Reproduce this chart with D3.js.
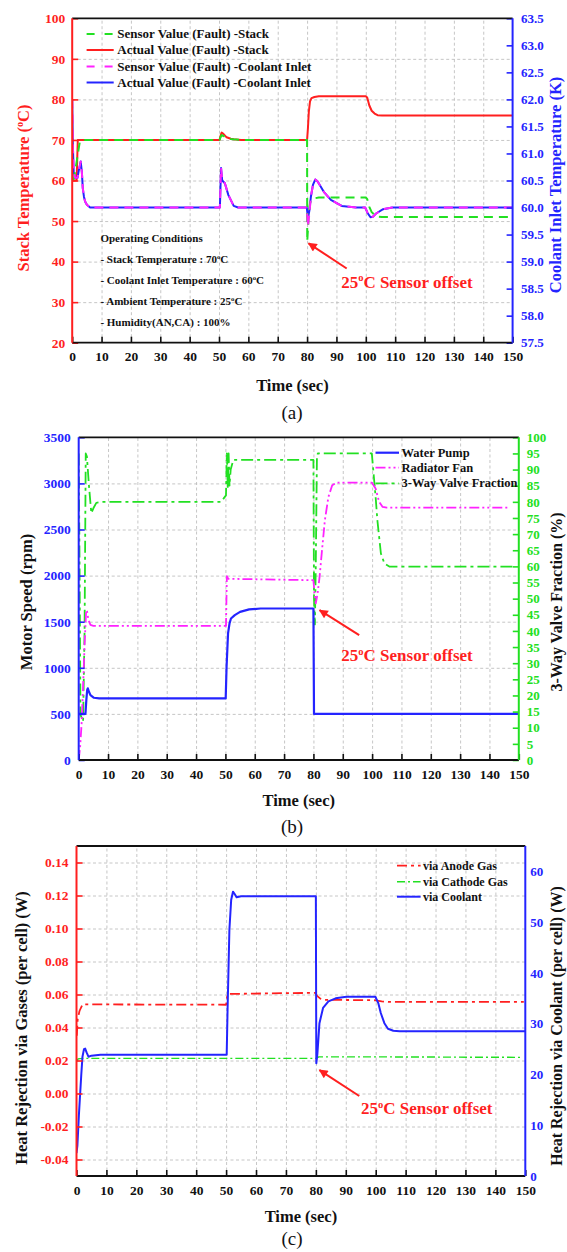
<!DOCTYPE html>
<html><head><meta charset="utf-8">
<script src="https://cdn.jsdelivr.net/npm/d3@7/dist/d3.min.js"></script>
<style>html,body{margin:0;padding:0;background:#fff;}svg{display:block;}</style>
</head><body>
<svg id="chart" width="567" height="1252"></svg>
<script>
// ---------------- DATA ----------------
const xTicks = [0,10,20,30,40,50,60,70,80,90,100,110,120,130,140,150];
const xGrid  = [10,20,30,40,50,60,70,80,90,100,110,120,130,140];

// Panel (a)
const aLeftTicks  = [20,30,40,50,60,70,80,90,100];
const aLeftGrid   = [30,40,50,60,70,80,90];
const aRightTicks = [57.5,58.0,58.5,59.0,59.5,60.0,60.5,61.0,61.5,62.0,62.5,63.0,63.5];
const aStackActual = [[0,60],[1.5,60],[1.7,65],[1.9,70],[50.2,70],[50.6,71.2],[50.9,71.8],[51.5,71.5],[52.6,70.65],[54,70.3],[55,70.2],[57.5,70],[80,70],[80.3,73],[80.6,77],[81,79.5],[81.5,80.3],[82.5,80.6],[84,80.8],[100,80.8],[100.5,80.4],[101.2,78.5],[102,77.2],[103,76.5],[104,76.1],[105.5,76.0],[150,76.0]];
const aStackSensor = [[0,60],[0.6,60.5],[1.0,62.2],[1.8,66],[2.6,69.6],[3.2,70],[50.2,70],[50.6,70.8],[50.9,71.2],[51.5,71.0],[52.6,70.55],[54,70.25],[55,70.15],[57.5,70],[80,70],[80.05,45],[80.3,48],[80.6,52],[81,54.5],[81.5,55.3],[82.5,55.6],[84,55.8],[100,55.8],[100.5,55.4],[101.2,53.5],[102,52.2],[103,51.5],[104,51.1],[105.5,51.0],[148.8,51.0]];
const aCoolActual = [[0,62.0],[0.2,61.2],[0.5,60.65],[1.0,60.55],[1.8,60.55],[2.3,60.7],[2.9,60.85],[3.3,60.65],[3.6,60.36],[4.0,60.2],[4.4,60.11],[5.0,60.05],[6.1,60.0],[50.3,60.0],[50.7,60.73],[51.1,60.5],[52,60.45],[53.2,60.23],[55,60.03],[56.5,60.0],[79.9,60.0],[80.3,59.8],[80.8,59.95],[81.3,60.2],[82.0,60.42],[82.8,60.52],[83.6,60.48],[85.7,60.29],[88.1,60.14],[91.8,60.03],[96.7,60.0],[99.8,60.0],[100.6,59.9],[101.6,59.82],[102.4,59.83],[103.5,59.89],[105.9,59.97],[109,60.0],[150,60.0]];
const aCoolSensor = [[0,62.0],[0.2,61.2],[0.5,60.65],[1.0,60.55],[1.8,60.55],[2.3,60.7],[2.9,60.85],[3.3,60.65],[3.6,60.36],[4.0,60.2],[4.4,60.11],[5.0,60.05],[6.1,60.0],[50.3,60.0],[50.7,60.73],[51.1,60.5],[52,60.45],[53.2,60.23],[55,60.03],[56.5,60.0],[79.9,60.0],[80.3,59.65],[80.8,59.9],[81.3,60.2],[82.0,60.42],[82.8,60.52],[83.6,60.48],[85.7,60.29],[88.1,60.14],[91.8,60.03],[96.7,60.0],[99.8,60.0],[100.6,59.9],[101.6,59.82],[102.4,59.83],[103.5,59.89],[105.9,59.97],[109,60.0],[150,60.0]];

// Panel (b)
const bLeftTicks  = [0,500,1000,1500,2000,2500,3000,3500];
const bLeftGrid   = [500,1000,1500,2000,2500,3000];
const bRightTicks = [0,5,10,15,20,25,30,35,40,45,50,55,60,65,70,75,80,85,90,95,100];
const bPump  = [[0,500],[2.3,500],[2.6,650],[2.9,760],[3.1,777],[3.5,740],[4.0,704],[5.2,675],[7,668],[50.1,668],[50.4,1011],[50.9,1373],[51.4,1480],[51.9,1535],[53.2,1571],[55,1607],[58.1,1633],[62,1643],[80,1643],[80.2,500],[150,500]];
const bFan   = [[0,0],[0.5,150],[1.0,400],[1.5,800],[2.0,1250],[2.5,1600],[2.8,1625],[3.3,1520],[4.0,1465],[5,1455],[50.2,1455],[50.5,1994],[51,1965],[80,1950],[80.4,1800],[80.8,1698],[81.4,1800],[82.1,1986],[83,2300],[83.9,2600],[85.1,2853],[86.4,2980],[88,3009],[99.9,3009],[101.2,2944],[102.4,2799],[103.6,2745],[105,2738],[146.7,2738]];
const bValve = [[0,95],[0.3,60],[0.6,14],[1.5,12],[2.0,40],[2.4,95],[2.8,94],[3.5,85],[4.3,76.5],[5,78],[6,79.7],[8,80],[48.5,80],[50.2,82],[50.5,95],[50.8,84],[51.1,95],[51.4,85],[51.8,90],[52.7,93],[80,93],[80.2,50],[80.5,42],[80.8,60],[81.2,94],[81.5,95],[99.9,95],[101.2,81.5],[101.8,74.3],[103,64],[104.2,60.9],[106,59.9],[149.1,59.9]];

// Panel (c)
const cLeftTicks  = [-0.04,-0.02,0.00,0.02,0.04,0.06,0.08,0.10,0.12,0.14];
const cRightTicks = [0,10,20,30,40,50,60];
const cAnode   = [[0.1,0.035],[0.4,0.045],[1.0,0.05],[2.0,0.054],[50,0.0538],[50.5,0.0603],[65,0.0607],[79.8,0.061],[80.5,0.059],[81.5,0.0575],[83,0.0568],[100,0.0565],[102,0.0558],[105,0.0555],[149.5,0.0555]];
const cCathode = [[0.2,0.0195],[0.5,0.021],[2,0.0213],[80,0.0213],[81,0.0222],[100,0.0222],[149,0.0219]];
const cCoolant = [[0,4.5],[0.3,6],[0.8,12],[1.2,16],[1.6,20],[2.0,23.5],[2.5,25.0],[2.9,25.1],[3.4,24.3],[4.0,23.5],[5,23.7],[8,23.9],[50.2,23.9],[50.5,33],[51.1,48.5],[51.7,54.4],[52.3,56.0],[52.8,55.6],[53.5,54.9],[55,55.1],[80,55.1],[80.15,22.2],[80.5,24],[81.2,30.1],[82.4,33.1],[84.2,34.4],[86.6,35.0],[90.2,35.3],[99.9,35.3],[100.9,34.0],[101.7,32.1],[102.9,30.1],[104.1,29.0],[105.9,28.6],[108,28.5],[150,28.5]];

// ---------------- DRAWING ----------------
const FONT = '"Liberation Serif","Times New Roman",serif';
const RED="#ff1f1f", BLUE="#2424ff", GREEN="#22e022", MAG="#ff22ff", BLK="#111111";
const TITLE = 16.5, TICK = 13.5, RTICK = 13;
const svg = d3.select("#chart");
svg.append("rect").attr("width",567).attr("height",1252).attr("fill","#fff");
const defs = svg.append("defs");
defs.append("marker").attr("id","arrowHead").attr("viewBox","0 0 10 10").attr("refX",9).attr("refY",5)
  .attr("markerWidth",12).attr("markerHeight",9).attr("markerUnits","userSpaceOnUse").attr("orient","auto")
  .append("path").attr("d","M0,0L10,5L0,10z").attr("fill",RED);

function rich(parent, segs, size, weight){
  const t = parent.append("text").attr("font-family",FONT).attr("font-size",size).attr("font-weight",weight||"bold");
  let cur = 0;
  segs.forEach(s=>{
    const sup = typeof s !== "string";
    const target = sup ? -size*0.38 : 0;
    const sp = t.append("tspan").attr("dy", target-cur).text(sup ? s.sup : s);
    if (sup) sp.attr("font-size", size*0.62);
    cur = target;
  });
  return t;
}

function buildPanel(P){
  const g = svg.append("g");
  const x = d3.scaleLinear().domain([0,150]).range([P.x0,P.x1]);
  const yL = d3.scaleLinear().domain(P.lDom).range([P.y1,P.y0]);
  const yR = d3.scaleLinear().domain(P.rDom).range([P.y1,P.y0]);
  const W = P.x1-P.x0, H = P.y1-P.y0;
  const grid = g.append("g");
  grid.append("g").attr("transform",`translate(${P.x0},0)`).call(d3.axisLeft(yL).tickValues(P.lGrid).tickSize(-W).tickFormat(""));
  grid.append("g").attr("transform",`translate(0,${P.y1})`).call(d3.axisBottom(x).tickValues(xGrid).tickSize(-H).tickFormat(""));
  grid.selectAll(".domain").remove();
  grid.selectAll("line").attr("stroke","#b8b8b8").attr("stroke-width",0.8).attr("stroke-dasharray","3,2.5");
  const id = "clip"+P.name;
  defs.append("clipPath").attr("id",id).append("rect").attr("x",P.x0).attr("y",P.y0).attr("width",W).attr("height",H);
  const plot = g.append("g").attr("clip-path",`url(#${id})`);
  P.series.forEach(s=>{
    const sc = s.axis==="R" ? yR : yL;
    plot.append("path").datum(s.data)
      .attr("d", d3.line().x(d=>x(d[0])).y(d=>sc(d[1])))
      .attr("fill","none").attr("stroke",s.color).attr("stroke-width",s.w)
      .attr("stroke-dasharray",s.dash||null).attr("stroke-linejoin","round");
  });
  function styleAxis(sel,color,size){
    sel.select(".domain").remove();
    sel.selectAll(".tick line").attr("stroke",color).attr("stroke-width",1.6);
    sel.selectAll(".tick text").attr("fill",color).attr("font-family",FONT).attr("font-size",size).attr("font-weight","bold");
  }
  const la = g.append("g").attr("transform",`translate(${P.x0},0)`)
    .call(d3.axisLeft(yL).tickValues(P.lTicks).tickFormat(P.lFmt).tickSizeInner(-6).tickSizeOuter(0).tickPadding(P.lPad));
  styleAxis(la,P.lColor,TICK);
  const ra = g.append("g").attr("transform",`translate(${P.x1},0)`)
    .call(d3.axisRight(yR).tickValues(P.rTicks).tickFormat(P.rFmt).tickSizeInner(P.rTick).tickSizeOuter(0).tickPadding(P.rPad));
  styleAxis(ra,P.rColor,RTICK);
  const ba = g.append("g").attr("transform",`translate(0,${P.y1})`)
    .call(d3.axisBottom(x).tickValues(xTicks).tickFormat(d3.format("d")).tickSizeInner(-6).tickSizeOuter(0).tickPadding(9));
  styleAxis(ba,BLK,TICK);
  // frame
  g.append("line").attr("x1",P.x0).attr("x2",P.x1).attr("y1",P.y0).attr("y2",P.y0).attr("stroke",BLK).attr("stroke-width",1.8);
  g.append("line").attr("x1",P.x0).attr("x2",P.x1).attr("y1",P.y1).attr("y2",P.y1).attr("stroke",BLK).attr("stroke-width",1.8);
  g.append("line").attr("x1",P.x0).attr("x2",P.x0).attr("y1",P.y0).attr("y2",P.y1).attr("stroke",P.lColor).attr("stroke-width",2);
  g.append("line").attr("x1",P.x1).attr("x2",P.x1).attr("y1",P.y0).attr("y2",P.y1).attr("stroke",P.rColor).attr("stroke-width",2);
  // titles
  rich(g, P.lTitle, P.lTitleSize||TITLE).attr("text-anchor","middle").attr("fill",P.lTitleColor)
    .attr("transform",`translate(${P.lTitleX},${P.lTitleY}) rotate(-90)`).attr("y",(P.lTitleSize||TITLE)*0.35);
  rich(g, P.rTitle, P.rTitleSize||TITLE).attr("text-anchor","middle").attr("fill",P.rTitleColor)
    .attr("transform",`translate(${P.rTitleX},${P.rTitleY}) rotate(-90)`).attr("y",(P.rTitleSize||TITLE)*0.35);
  rich(g, ["Time (sec)"], TITLE).attr("text-anchor","middle").attr("fill",BLK)
    .attr("x",(P.x0+P.x1)/2).attr("y",P.timeY+TITLE*0.35);
  rich(g, [P.sub], 19, "normal").attr("text-anchor","middle").attr("fill",BLK)
    .attr("x",292).attr("y",P.subY+6.5);
  return {g,x,yL,yR};
}

function legend(g, items, lx0, lx1, tx, rows, size){
  items.forEach((it,i)=>{
    g.append("line").attr("x1",lx0).attr("x2",lx1).attr("y1",rows[i]).attr("y2",rows[i])
      .attr("stroke",it.color).attr("stroke-width",it.w).attr("stroke-dasharray",it.dash||null);
    g.append("text").attr("x",tx).attr("y",rows[i]+size*0.33).attr("font-family",FONT).attr("font-size",size)
      .attr("font-weight","bold").attr("fill",BLK).text(it.label);
  });
}

function annotate(ctx, A){
  ctx.g.append("line").attr("x1",ctx.x(A.tail[0])).attr("y1",ctx.yL(A.tail[1]))
    .attr("x2",ctx.x(A.head[0])).attr("y2",ctx.yL(A.head[1]))
    .attr("stroke",RED).attr("stroke-width",2).attr("marker-end","url(#arrowHead)");
  rich(ctx.g, ["25",{sup:"o"},"C Sensor offset"], 17).attr("fill",RED)
    .attr("x",ctx.x(A.text[0])).attr("y",ctx.yL(A.text[1]));
}

// ----- Panel (a)
const dashA = "9,6";
const A = buildPanel({
  name:"a", x0:72.2, x1:512.6, y0:18.3, y1:342.7, lDom:[20,100], rDom:[57.5,63.5],
  lTicks:aLeftTicks, lGrid:aLeftGrid, lFmt:d3.format("d"), lPad:7, lColor:RED,
  rTicks:aRightTicks, rFmt:d3.format(".1f"), rTick:-6, rPad:8.5, rColor:BLUE,
  lTitle:["Stack Temperature (",{sup:"o"},"C)"], lTitleColor:RED, lTitleX:23.5, lTitleY:188,
  rTitle:["Coolant Inlet Temperature (K)"], rTitleColor:BLUE, rTitleX:555, rTitleY:185,
  timeY:385, sub:"(a)", subY:412,
  series:[
    {data:aStackActual, color:RED, w:2},
    {data:aCoolActual, color:BLUE, w:2, axis:"R"},
    {data:aStackSensor, color:GREEN, w:2, dash:dashA},
    {data:aCoolSensor, color:MAG, w:2, dash:dashA, axis:"R"}
  ]
});
legend(A.g, [
  {label:"Sensor Value (Fault) -Stack", color:GREEN, w:2, dash:"8,10"},
  {label:"Actual Value (Fault) -Stack", color:RED, w:2},
  {label:"Sensor Value (Fault) -Coolant Inlet", color:MAG, w:2, dash:"8,10"},
  {label:"Actual Value (Fault) -Coolant Inlet", color:BLUE, w:2}
], 86.6, 113.7, 117.3, [34,50,66.5,82.5], 13);
const opLines = [
  ["Operating Conditions"],
  ["- Stack Temperature : 70",{sup:"o"},"C"],
  ["- Coolant Inlet Temperature : 60",{sup:"o"},"C"],
  ["- Ambient Temperature : 25",{sup:"o"},"C"],
  ["- Humidity(AN,CA) : 100%"]
];
const opY = [238,259,280,301,322];
opLines.forEach((l,i)=> rich(A.g, l, 11).attr("fill",BLK).attr("x",100.4).attr("y",opY[i]+4));
annotate(A, {tail:[93.5,38.3], head:[80.5,44.5], text:[91.6,33.6]});

// ----- Panel (b)
const B = buildPanel({
  name:"b", x0:78.7, x1:518.8, y0:437.3, y1:760, lDom:[0,3500], rDom:[0,100],
  lTicks:bLeftTicks, lGrid:bLeftGrid, lFmt:d3.format("d"), lPad:8, lColor:BLUE,
  rTicks:bRightTicks, rFmt:d3.format("d"), rTick:-6, rPad:8, rColor:GREEN,
  lTitle:["Motor Speed (rpm)"], lTitleColor:BLK, lTitleX:26, lTitleY:602,
  rTitle:["3-Way Valve Fraction (%)"], rTitleColor:BLK, rTitleX:556, rTitleY:602, rTitleSize:16,
  timeY:800, sub:"(b)", subY:826,
  series:[
    {data:bValve, color:GREEN, w:1.8, dash:"12,4,3,4", axis:"R"},
    {data:bFan, color:MAG, w:1.8, dash:"10,3,2,3,2,3"},
    {data:bPump, color:BLUE, w:2.2}
  ]
});
legend(B.g, [
  {label:"Water Pump", color:BLUE, w:2.2},
  {label:"Radiator Fan", color:MAG, w:1.8, dash:"10,3,2,3,2,3"},
  {label:"3-Way Valve Fraction", color:GREEN, w:1.8, dash:"12,4,3,4"}
], 375.5, 399, 401.5, [452.7,467.7,483.3], 12.5);
annotate(B, {tail:[95.6,1354], head:[82.1,1625], text:[89.5,1073]});

// ----- Panel (c)
const C = buildPanel({
  name:"c", x0:76.5, x1:525.3, y0:846, y1:1176, lDom:[-0.05,0.15], rDom:[0,65],
  lTicks:cLeftTicks, lGrid:cLeftTicks, lFmt:d=>(Math.abs(d)<1e-9?0:d).toFixed(2), lPad:8, lColor:RED,
  rTicks:cRightTicks, rFmt:d3.format("d"), rTick:0, rPad:5, rColor:BLUE,
  lTitle:["Heat Rejection via Gases (per cell) (W)"], lTitleColor:BLK, lTitleX:21.7, lTitleY:1028,
  rTitle:["Heat Rejection via Coolant (per cell) (W)"], rTitleColor:BLK, rTitleX:556, rTitleY:1026, rTitleSize:16,
  timeY:1216.7, sub:"(c)", subY:1238,
  series:[
    {data:cAnode, color:RED, w:1.8, dash:"10,4,3,4"},
    {data:cCathode, color:GREEN, w:1.4, dash:"8,3,2,3"},
    {data:cCoolant, color:BLUE, w:2, axis:"R"}
  ]
});
legend(C.g, [
  {label:"via Anode Gas", color:RED, w:1.8, dash:"10,4,3,4"},
  {label:"via Cathode Gas", color:GREEN, w:1.4, dash:"8,3,2,3"},
  {label:"via Coolant", color:BLUE, w:2}
], 397, 420.6, 423, [865.7,881.7,896.7], 12);
annotate(C, {tail:[94.5,-0.0015], head:[81.2,0.0142], text:[95.1,-0.0126]});
</script>
</body></html>
